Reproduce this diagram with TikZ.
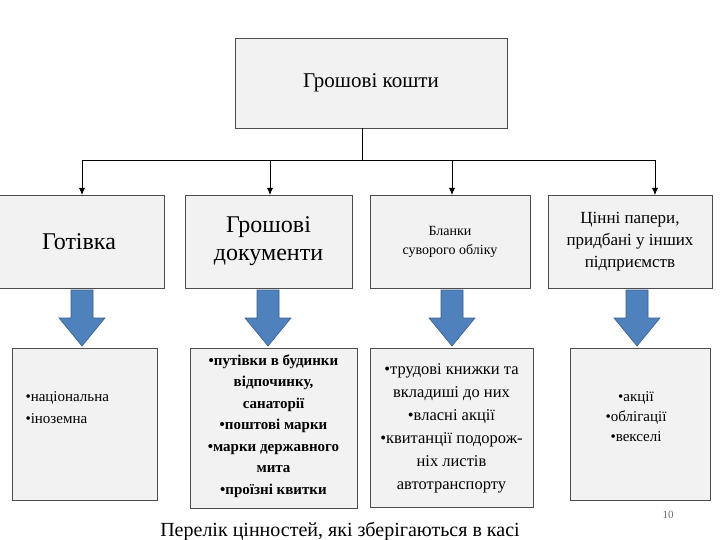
\documentclass[tikz,border=0pt]{standalone}
\usepackage{fontspec}
\setmainfont{Liberation Serif}
\usetikzlibrary{arrows.meta}
\definecolor{ablue}{HTML}{4F81BD}
\definecolor{ablued}{HTML}{385D8A}
\begin{document}
\begin{tikzpicture}[x=1pt,y=-1pt,
 box/.style={draw=black!70,fill=black!5,line width=0.8pt},
 conn/.style={draw=black,line width=0.8pt},
 tip/.style={conn,-{Latex[length=7pt,width=6pt]}},
 bigarrow/.style={fill=ablue,draw=ablued,line width=0.6pt}]
\useasboundingbox (0,0) rectangle (720,540);
\node[box,minimum width=272pt,minimum height=90pt,font=\fontsize{21}{24}\selectfont] (top) at (371,83) {Грошові кошти};
\node[box,minimum width=170pt,minimum height=93pt,font=\fontsize{24}{28}\selectfont] (b1) at (79,241.5) {Готівка};
\node[box,minimum width=167pt,minimum height=93pt,font=\fontsize{24}{28}\selectfont,align=center] (b2) at (268.5,241.5) {Грошові\\документи};
\node[box,minimum width=160pt,minimum height=93pt,font=\fontsize{14}{19}\selectfont,align=center] (b3) at (450,241.5) {Бланки\\суворого обліку};
\node[box,minimum width=164pt,minimum height=93pt,font=\fontsize{17}{22}\selectfont,align=center] (b4) at (630,241.5) {Цінні папери,\\придбані у інших\\підприємств};
\coordinate (j) at (362,160);
\coordinate (l) at (82,160);
\coordinate (r) at (655,160);
\draw[conn] (top.south -| j) -- (j);
\draw[conn] (l) -- (r);
\draw[tip] (l) -- (82,195);
\draw[tip] (270,160) -- (270,195);
\draw[tip] (452,160) -- (452,195);
\draw[tip] (r) -- (655,195);
\foreach \x in {82,268,452,637}{
 \draw[bigarrow] (\x-11,290) -- (\x+11,290) -- (\x+11,318) -- (\x+23,318) -- (\x,346) -- (\x-23,318) -- (\x-11,318) -- cycle;
}
\node[box,minimum width=145pt,minimum height=152pt] (c1) at (84.5,424) {};
\node[font=\fontsize{15}{22}\selectfont,align=left,anchor=west] at (22,408) {•національна\\•іноземна};
\node[box,minimum width=167pt,minimum height=160pt] (c2) at (273.5,428) {};
\node[font=\bfseries\fontsize{15}{21.5}\selectfont,align=center] at (273.5,426) {•путівки в будинки\\відпочинку,\\санаторії\\•поштові марки\\•марки державного\\мита\\•проїзні квитки};
\node[box,minimum width=163pt,minimum height=159pt] (c3) at (451.5,427.5) {};
\node[font=\fontsize{16.5}{23}\selectfont,align=center] at (451.5,428) {•трудові книжки та\\вкладиші до них\\•власні акції\\•квитанції подорож-\\ніх листів\\автотранспорту};
\node[box,minimum width=140pt,minimum height=152pt] (c4) at (640,424) {};
\node[font=\fontsize{15}{20}\selectfont,align=center] at (636,417) {•акції\\•облігації\\•векселі};
\node[font=\fontsize{11}{12}\selectfont,text=black!60] at (668,515) {10};
\node[font=\fontsize{20}{24}\selectfont] at (340,531) {Перелік цінностей, які зберігаються в касі};
\end{tikzpicture}
\end{document}
